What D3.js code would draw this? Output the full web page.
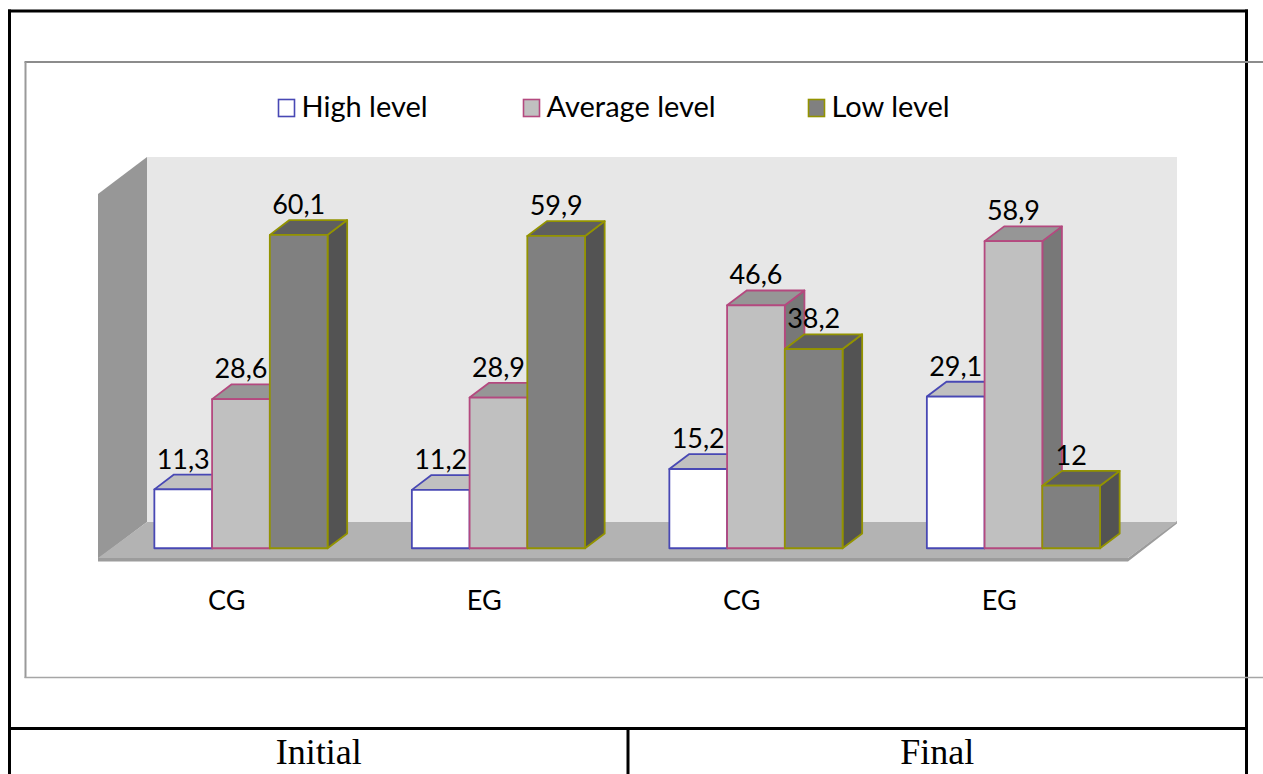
<!DOCTYPE html>
<html>
<head>
<meta charset="utf-8">
<script src="https://cdn.jsdelivr.net/npm/d3@7"></script>
<style>
  html, body { margin: 0; padding: 0; background: #fff; }
  svg { display: block; }
</style>
</head>
<body>
<svg id="chart" width="1263" height="774"></svg>
<script>
// Achievement levels, % of students, before and after the experiment
const categories = ["CG", "EG", "CG", "EG"];
const seriesNames = ["High level", "Average level", "Low level"];
const highLevel = [11.3, 11.2, 15.2, 29.1];
const averageLevel = [28.6, 28.9, 46.6, 58.9];
const lowLevel = [60.1, 59.9, 38.2, 12];
const periods = ["Initial", "Final"];
const yDomain = [0, 70];

const seriesValues = [highLevel, averageLevel, lowLevel];

// colours for each series: front, top, side faces and outline
const styles = [
  { front: "#ffffff", top: "#c0c0c0", side: "#9a9a9a", stroke: "#4848b4" },
  { front: "#c0c0c0", top: "#969696", side: "#787878", stroke: "#b4497f" },
  { front: "#808080", top: "#5f5f5f", side: "#535353", stroke: "#939300" }
];

const svg = d3.select("#chart");
const fmt = v => String(v).replace(".", ",");
const labelFont = "Lato, 'DejaVu Sans', sans-serif";

// ---- table lines around the chart ----
const tbl = svg.append("g").attr("stroke", "#000").attr("stroke-width", 3);
tbl.append("line").attr("x1", 8).attr("x2", 1248).attr("y1", 11).attr("y2", 11);
tbl.append("line").attr("x1", 9.5).attr("x2", 9.5).attr("y1", 9.5).attr("y2", 774);
tbl.append("line").attr("x1", 1246.5).attr("x2", 1246.5).attr("y1", 9.5).attr("y2", 774);
tbl.append("line").attr("x1", 8).attr("x2", 1248).attr("y1", 728.5).attr("y2", 728.5);
tbl.append("line").attr("x1", 628).attr("x2", 628).attr("y1", 728.5).attr("y2", 774);

// period captions in the bottom row
const periodX = d3.scaleBand().domain(periods).range([9.5, 1246.5]);
svg.append("g").selectAll("text").data(periods).join("text")
  .attr("x", d => periodX(d) + periodX.bandwidth() / 2)
  .attr("y", 764)
  .attr("text-anchor", "middle")
  .attr("font-family", "'Liberation Serif', 'Times New Roman', serif")
  .attr("font-size", 36)
  .attr("fill", "#000")
  .text(d => d);

// ---- chart frame ----
const frame = svg.append("g").attr("fill", "none");
frame.append("line").attr("x1", 24.5).attr("x2", 1263).attr("y1", 62).attr("y2", 62)
  .attr("stroke", "#8c8c8c").attr("stroke-width", 2.2);
frame.append("line").attr("x1", 25.5).attr("x2", 25.5).attr("y1", 62).attr("y2", 678)
  .attr("stroke", "#9a9a9a").attr("stroke-width", 2);
frame.append("line").attr("x1", 24.5).attr("x2", 1263).attr("y1", 677.5).attr("y2", 677.5)
  .attr("stroke", "#a6a6a6").attr("stroke-width", 1.6);

// ---- 3D plot geometry ----
const floor = { x0: 98, x1: 1128, y: 559, dx: 49, dy: -37 };
const wallH = 365;
const h = d3.scaleLinear().domain(yDomain).range([0, wallH]);

const xCat = d3.scaleBand().domain(d3.range(categories.length))
  .range([floor.x0, floor.x1]);
const xSer = d3.scaleBand().domain(d3.range(seriesNames.length))
  .range([0, xCat.bandwidth()]).paddingInner(0).paddingOuter(0.73);

const frontFrac = 0.29, depthFrac = 0.40;
const fdx = floor.dx * frontFrac, fdy = floor.dy * frontFrac;
const bdx = floor.dx * depthFrac, bdy = floor.dy * depthFrac;
const baseY = floor.y + fdy;

const walls = svg.append("g");
const pts = p => p.map(q => q.join(",")).join(" ");
// back wall
walls.append("rect")
  .attr("x", floor.x0 + floor.dx).attr("y", floor.y + floor.dy - wallH)
  .attr("width", floor.x1 - floor.x0).attr("height", wallH)
  .attr("fill", "#e7e7e7");
// side wall
walls.append("polygon")
  .attr("points", pts([
    [floor.x0, floor.y], [floor.x0, floor.y - wallH],
    [floor.x0 + floor.dx, floor.y + floor.dy - wallH], [floor.x0 + floor.dx, floor.y + floor.dy]
  ]))
  .attr("fill", "#979797");
// floor slab edge
walls.append("polygon")
  .attr("points", pts([
    [floor.x0, floor.y - 1], [floor.x1, floor.y - 1], [floor.x1 + floor.dx, floor.y + floor.dy - 1],
    [floor.x1 + floor.dx, floor.y + floor.dy + 1.5], [floor.x1, floor.y + 2.5], [floor.x0, floor.y + 2.5]
  ]))
  .attr("fill", "#9c9c9c");
// floor surface
walls.append("polygon")
  .attr("points", pts([
    [floor.x0, floor.y - 1], [floor.x0 + floor.dx, floor.y + floor.dy],
    [floor.x1 + floor.dx, floor.y + floor.dy], [floor.x1, floor.y - 1]
  ]))
  .attr("fill", "#b3b3b3");

// ---- bars ----
const bars = [];
categories.forEach((c, ci) => {
  seriesValues.forEach((vals, si) => {
    const v = vals[ci];
    const x = xCat(ci) + xSer(si) + fdx;
    const w = xSer.bandwidth();
    const top = baseY - h(v);
    bars.push({ ci, si, v, x, w, top });
  });
});

const barG = svg.append("g").attr("stroke-width", 1.8).attr("stroke-linejoin", "round");
bars.forEach(b => {
  const s = styles[b.si];
  const g = barG.append("g").attr("stroke", s.stroke);
  // right side face
  g.append("polygon").attr("fill", s.side).attr("points", pts([
    [b.x + b.w, b.top], [b.x + b.w + bdx, b.top + bdy],
    [b.x + b.w + bdx, baseY + bdy], [b.x + b.w, baseY]
  ]));
  // top face
  g.append("polygon").attr("fill", s.top).attr("points", pts([
    [b.x, b.top], [b.x + bdx, b.top + bdy],
    [b.x + b.w + bdx, b.top + bdy], [b.x + b.w, b.top]
  ]));
  // front face
  g.append("rect").attr("fill", s.front)
    .attr("x", b.x).attr("y", b.top).attr("width", b.w).attr("height", baseY - b.top);
});

// value labels
svg.append("g").selectAll("text").data(bars).join("text")
  .attr("x", d => d.x + d.w / 2)
  .attr("y", d => d.top + bdy - 6)
  .attr("text-anchor", "middle")
  .attr("font-family", labelFont)
  .attr("font-size", 27)
  .attr("fill", "#000")
  .text(d => fmt(d.v));

// category labels under the floor
svg.append("g").selectAll("text").data(categories).join("text")
  .attr("x", (d, i) => xCat(i) + xCat.bandwidth() / 2)
  .attr("y", 610)
  .attr("text-anchor", "middle")
  .attr("font-family", labelFont)
  .attr("font-size", 27)
  .attr("fill", "#000")
  .text(d => d);

// ---- legend ----
const legendX = [278.5, 523.5, 808.5];
const legend = svg.append("g").selectAll("g").data(seriesNames).join("g")
  .attr("transform", (d, i) => `translate(${legendX[i]},99.5)`);
legend.append("rect")
  .attr("width", 16).attr("height", 17)
  .attr("fill", (d, i) => styles[i].front)
  .attr("stroke", (d, i) => styles[i].stroke)
  .attr("stroke-width", 1.6);
legend.append("text")
  .attr("x", 23).attr("y", 17.5)
  .attr("font-family", labelFont)
  .attr("font-size", 29)
  .attr("fill", "#000")
  .text(d => d);
</script>
</body>
</html>
